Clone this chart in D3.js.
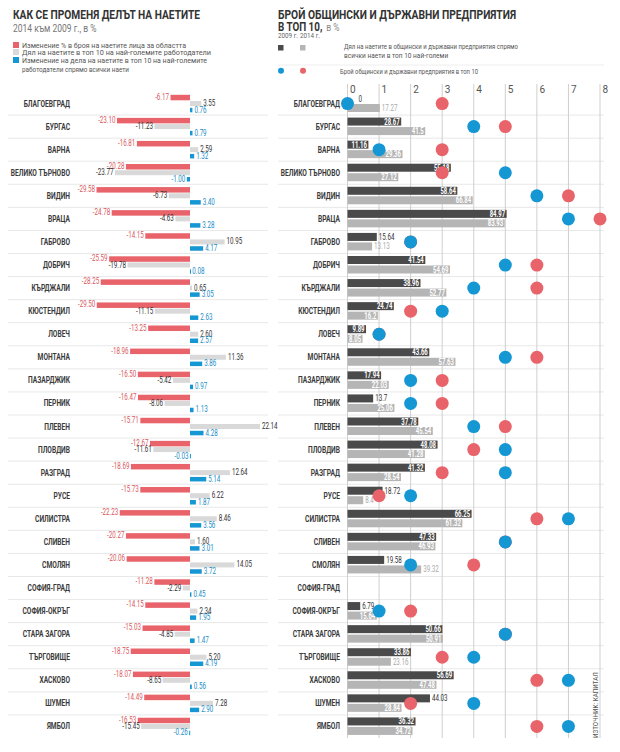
<!DOCTYPE html>
<html><head><meta charset="utf-8">
<script src="https://cdn.jsdelivr.net/npm/d3@7/dist/d3.min.js"></script>
<style>
body{margin:0;background:#fff;}
svg{display:block;font-family:"Roboto","Liberation Sans",sans-serif;}
</style></head>
<body><svg id="c" width="620" height="752"></svg>
<script>
const regions = ["БЛАГОЕВГРАД","БУРГАС","ВАРНА","ВЕЛИКО ТЪРНОВО","ВИДИН","ВРАЦА","ГАБРОВО","ДОБРИЧ","КЪРДЖАЛИ","КЮСТЕНДИЛ","ЛОВЕЧ","МОНТАНА","ПАЗАРДЖИК","ПЕРНИК","ПЛЕВЕН","ПЛОВДИВ","РАЗГРАД","РУСЕ","СИЛИСТРА","СЛИВЕН","СМОЛЯН","СОФИЯ-ГРАД","СОФИЯ-ОКРЪГ","СТАРА ЗАГОРА","ТЪРГОВИЩЕ","ХАСКОВО","ШУМЕН","ЯМБОЛ"];
// Left panel: change 2014 vs 2009, %
const employmentChange = [-6.17,-23.10,-16.81,-20.28,-29.58,-24.78,-14.15,-25.59,-28.25,-29.50,-13.25,-18.96,-16.50,-16.47,-15.71,-12.67,-18.69,-15.73,-22.23,-20.27,-20.06,-11.28,-14.15,-15.03,-18.75,-18.07,-14.49,-16.53];
const top10Share = [3.55,-11.23,2.59,-23.77,-6.73,-4.63,10.95,-19.78,0.65,-11.15,2.60,11.36,-5.42,-8.06,22.14,-11.61,12.64,6.22,8.46,1.60,14.05,-2.29,2.34,-4.85,5.20,-8.65,7.28,-15.45];
const top10ShareChange = [0.76,0.79,1.32,-1.00,3.40,3.28,4.17,0.08,3.05,2.63,2.57,3.86,0.97,1.13,4.28,-0.03,5.14,1.87,3.56,3.01,3.72,0.45,1.95,1.47,4.19,0.56,2.90,-0.26];
// Right panel: state/municipal enterprises in top 10
const stateShare2009 = [0,28.67,11.16,55.18,58.64,84.97,15.64,41.54,38.96,24.74,9.89,43.66,17.94,13.7,37.78,48.08,41.32,18.72,66.25,47.33,19.58,null,6.79,50.66,33.86,56.69,44.03,36.32];
const stateShare2014 = [17.27,41.5,29.36,27.12,66.84,83.93,13.13,54.69,52.77,16.2,8.05,57.63,22.03,25.06,45.54,41.28,28.54,8.4,61.32,46.93,39.32,null,15.64,50.91,23.16,47.48,28.84,34.72];
const stateCount2009 = [0,4,1,5,6,7,2,5,4,3,1,5,2,2,4,5,5,2,7,5,2,null,1,5,4,7,4,7];
const stateCount2014 = [3,5,3,3,7,8,2,6,6,2,1,6,3,3,5,4,3,1,6,5,4,null,2,5,3,6,2,6];
const countTicks = [0,1,2,3,4,5,6,7,8];

const RED="#e8646a", LGRAY="#d9d9d9", BLUE="#1597d3", DARK="#4a4a4a", MGRAY="#b5b5b5";
const svg = d3.select("#c");
svg.append("rect").attr("width",620).attr("height",752).attr("fill","#fff");

// horizontal condensing helpers
function cond(sel, f){ const n=sel.node(); const w=n.getComputedTextLength(); if(w>0) sel.attr("textLength",w*f).attr("lengthAdjust","spacingAndGlyphs"); return sel; }
function fit(sel, w){ sel.attr("textLength",w).attr("lengthAdjust","spacingAndGlyphs"); return sel; }

const y = d3.scaleBand().domain(regions).range([92,738]);
const bw = y.bandwidth();

// separators
regions.slice(1).forEach(r=>{
  svg.append("line").attr("x1",8).attr("x2",268).attr("y1",y(r)).attr("y2",y(r)).attr("stroke","#e8e8e8");
  svg.append("line").attr("x1",278).attr("x2",604).attr("y1",y(r)).attr("y2",y(r)).attr("stroke","#e8e8e8");
});

// ---------- LEFT PANEL ----------
fit(svg.append("text").attr("x",13).attr("y",19).attr("font-size",12).attr("font-weight","bold").attr("fill","#333").text("КАК СЕ ПРОМЕНЯ ДЕЛЪТ НА НАЕТИТЕ"),187);
cond(svg.append("text").attr("x",13).attr("y",31.5).attr("font-size",10).attr("fill","#777").text("2014 към 2009 г., в %"),0.85);
const legL = [[RED,"Изменение % в броя на наетите лица за областта",47.5,164],[LGRAY,"Дял на наетите в топ 10 на най-големите работодатели",54.5,189],[BLUE,"Изменение на дела на наетите в топ 10 на най-големите",62.5,185]];
legL.forEach(([c,t,b,w])=>{
  svg.append("rect").attr("x",13).attr("y",b-5.5).attr("width",6).attr("height",6).attr("fill",c);
  fit(svg.append("text").attr("x",22).attr("y",b).attr("font-size",7.6).attr("fill","#555").text(t),w);
});
fit(svg.append("text").attr("x",22).attr("y",72).attr("font-size",7.6).attr("fill","#555").text("работодатели спрямо всички наети"),107);

const xL = d3.scaleLinear().domain([-30,30]).range([190-94.8,190+94.8]);
const fmt2 = v=>v.toFixed(2);
const gL = svg.append("g");
regions.forEach((r,i)=>{
  const top = y(r);
  cond(gL.append("text").attr("x",70).attr("y",top+bw/2+3).attr("text-anchor","end").attr("font-size",8.3).attr("font-weight","bold").attr("fill","#3a3a3a").text(r),0.8);
  const series = [
    {v:employmentChange[i], c:RED, off:2.8, h:5.5, lc:"#d9575e", base:7.8},
    {v:top10Share[i], c:LGRAY, off:9, h:5, lc:"#333", base:14},
    {v:top10ShareChange[i], c:BLUE, off:15.8, h:4.5, lc:"#1a8cc6", base:20.5}
  ];
  series.forEach(s=>{
    const x0 = xL(Math.min(0,s.v)), x1 = xL(Math.max(0,s.v));
    gL.append("rect").attr("x",x0).attr("y",top+s.off).attr("width",Math.max(1,x1-x0)).attr("height",s.h).attr("fill",s.c);
    const neg = s.v<0;
    cond(gL.append("text").attr("x",neg? xL(s.v)-1.5 : xL(s.v)+2).attr("y",top+s.base)
      .attr("text-anchor",neg?"end":"start").attr("font-size",8.3).attr("fill",s.lc).text(fmt2(s.v)),0.75);
  });
});

// ---------- RIGHT PANEL ----------
fit(svg.append("text").attr("x",278).attr("y",18.5).attr("font-size",12).attr("font-weight","bold").attr("fill","#333").text("БРОЙ ОБЩИНСКИ И ДЪРЖАВНИ ПРЕДПРИЯТИЯ"),238);
const t2a = cond(svg.append("text").attr("x",278).attr("y",30.5).attr("font-size",12).attr("font-weight","bold").attr("fill","#333").text("В ТОП 10,"),0.82);
const t2w = +t2a.attr("textLength");
cond(svg.append("text").attr("x",278+t2w+4).attr("y",30.5).attr("font-size",10).attr("fill","#888").text("в %"),0.85);
svg.append("text").attr("x",278).attr("y",37.5).attr("font-size",6.3).attr("fill","#666").text("2009 г.");
svg.append("text").attr("x",300).attr("y",37.5).attr("font-size",6.3).attr("fill","#666").text("2014 г.");
svg.append("rect").attr("x",278).attr("y",45).attr("width",5.5).attr("height",5.5).attr("fill",DARK);
svg.append("rect").attr("x",300).attr("y",45).attr("width",5.5).attr("height",5.5).attr("fill",MGRAY);
fit(svg.append("text").attr("x",344).attr("y",48.5).attr("font-size",7.6).attr("fill","#555").text("Дял на наетите в общински и държавни предприятия спрямо"),174);
cond(svg.append("text").attr("x",344).attr("y",58).attr("font-size",7.6).attr("fill","#555").text("всички наети в топ 10 най-големи"),0.86);
svg.append("line").attr("x1",278).attr("x2",604).attr("y1",65).attr("y2",65).attr("stroke","#eee");
svg.append("circle").attr("cx",281).attr("cy",70.7).attr("r",3).attr("fill",BLUE);
svg.append("circle").attr("cx",303).attr("cy",70.7).attr("r",3).attr("fill",RED);
fit(svg.append("text").attr("x",340).attr("y",73.5).attr("font-size",7.6).attr("fill","#555").text("Брой общински и държавни предприятия в топ 10"),138);

const xC = d3.scaleLinear().domain([0,8]).range([347.5,600]);
const xP = d3.scaleLinear().domain([0,100]).range([347.5,534.8]);

// gridlines + ticks
countTicks.forEach(t=>{
  svg.append("line").attr("x1",xC(t)).attr("x2",xC(t)).attr("y1",84).attr("y2",738).attr("stroke","#cfcfcf").attr("stroke-width",1);
  svg.append("text").attr("x",xC(t)+2.5).attr("y",92.5).attr("font-size",10).attr("fill","#555").text(t);
});

const darkOutside = new Set(["БЛАГОЕВГРАД","ГАБРОВО","ПЕРНИК","РУСЕ","СМОЛЯН","СОФИЯ-ОКРЪГ","ШУМЕН"]);
const lightOutside = new Set(["БЛАГОЕВГРАД","ГАБРОВО","РУСЕ","СМОЛЯН","ТЪРГОВИЩЕ"]);
const gR = svg.append("g");
regions.forEach((r,i)=>{
  const top = y(r);
  cond(gR.append("text").attr("x",340).attr("y",top+bw/2+3).attr("text-anchor","end").attr("font-size",8.3).attr("font-weight","bold").attr("fill","#3a3a3a").text(r),0.8);
  if (stateShare2009[i]==null) return;
  const d = stateShare2009[i], l = stateShare2014[i];
  gR.append("rect").attr("x",xP(0)).attr("y",top+2.5).attr("width",xP(d)-xP(0)).attr("height",8).attr("fill",DARK);
  gR.append("rect").attr("x",xP(0)).attr("y",top+12).attr("width",xP(l)-xP(0)).attr("height",8).attr("fill",MGRAY);
  if (darkOutside.has(r)) {
    cond(gR.append("text").attr("x",xP(d)+(d===0?11:2)).attr("y",top+9.5).attr("font-size",8.3).attr("fill","#333").text(String(d)),0.75);
  } else {
    cond(gR.append("text").attr("x",xP(d)-1.5).attr("y",top+9.5).attr("text-anchor","end").attr("font-size",8.3).attr("font-weight","bold").attr("fill","#fff").text(String(d)),0.72);
  }
  if (lightOutside.has(r)) {
    cond(gR.append("text").attr("x",xP(l)+2).attr("y",top+19).attr("font-size",8.3).attr("fill","#aaa").text(String(l)),0.75);
  } else {
    cond(gR.append("text").attr("x",xP(l)-1.5).attr("y",top+19).attr("text-anchor","end").attr("font-size",8.3).attr("font-weight","bold").attr("fill","#fff").text(String(l)),0.72);
  }
  gR.append("circle").attr("cx",xC(stateCount2014[i])).attr("cy",top+bw/2).attr("r",6.5).attr("fill",RED);
  gR.append("circle").attr("cx",xC(stateCount2009[i])).attr("cy",top+bw/2).attr("r",6.5).attr("fill",BLUE);
});

// source
cond(svg.append("text").attr("transform","translate(598,738) rotate(-90)").attr("font-size",7).attr("fill","#555").text("ИЗТОЧНИК: КАПИТАЛ"),0.9);
</script></body></html>
